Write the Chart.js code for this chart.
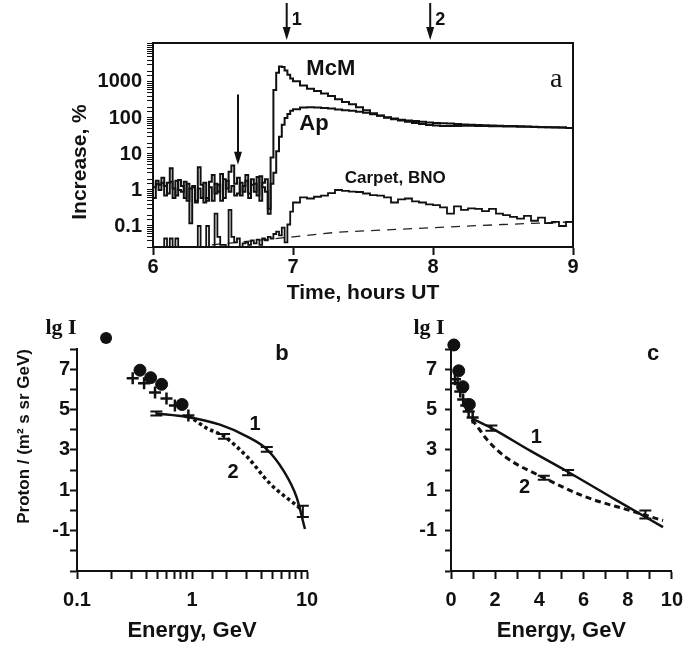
<!DOCTYPE html>
<html>
<head>
<meta charset="utf-8">
<script src="https://cdn.jsdelivr.net/npm/chart.js@4.4.0/dist/chart.umd.min.js"></script>
<style>
    html, body { margin: 0; padding: 0; background: #fff; }
    #wrap { position: relative; width: 692px; height: 648px; overflow: hidden; }
    canvas { position: absolute; }
</style>
</head>
<body>
<div id="wrap">
    <canvas id="chart-a" width="692" height="310" style="left:0;top:0"></canvas>
    <canvas id="chart-b" width="340" height="338" style="left:0;top:310px"></canvas>
    <canvas id="chart-c" width="352" height="338" style="left:340px;top:310px"></canvas>
</div>
<script>
// ---- panel a: increase, % vs time (hours UT)
const hoursA = [
    6.00, 6.02, 6.04, 6.06, 6.08, 6.10, 6.12, 6.14, 6.16, 6.18,
    6.20, 6.22, 6.24, 6.26, 6.28, 6.30, 6.32, 6.34, 6.36, 6.38,
    6.40, 6.42, 6.44, 6.46, 6.48, 6.50, 6.52, 6.54, 6.56, 6.58,
    6.60, 6.62, 6.64, 6.66, 6.68, 6.70, 6.72, 6.74, 6.76, 6.78,
    6.80, 6.82, 6.84, 6.86, 6.88, 6.90, 6.92, 6.94, 6.96, 6.98,
    7.00, 7.05, 7.10, 7.15, 7.20, 7.25, 7.30, 7.35, 7.40, 7.45,
    7.50, 7.55, 7.60, 7.65, 7.70, 7.75, 7.80, 7.85, 7.90, 7.95,
    8.00, 8.05, 8.10, 8.15, 8.20, 8.25, 8.30, 8.35, 8.40, 8.45,
    8.50, 8.55, 8.60, 8.65, 8.70, 8.75, 8.80, 8.85, 8.90, 8.95,
    9.00
];
const mcmIncrease = [
    1.2, 1.8, 1.4, 2.2, 0.7, 1.6, 4.0, 1.1, 0.7, 1.9,
    1.3, 0.6, 1.5, 0.12, 1.2, 0.5, 4.3, 1.4, 0.45, 0.6,
    1.7, 2.6, 0.8, 1.4, 0.5, 2.0, 1.1, 3.2, 4.8, 1.5,
    2.2, 0.7, 1.3, 1.8, 0.8, 2.0, 1.5, 0.7, 2.4, 1.2,
    0.9, 0.22, 8, 600, 1800, 2700, 2600, 2100, 1600, 1250,
    1050, 800, 650, 560, 480, 410, 330, 280, 240, 200,
    165, 135, 118, 105, 97, 90, 85, 82, 78, 75,
    73, 71, 70, 68, 66, 65, 64, 63, 62, 61,
    60, 60, 59, 58, 57, 56, 55, 55, 54, 53,
    52
];
const apIncrease = [
    0.6, 1.5, 1.0, 1.6, 1.3, 0.8, 1.7, 0.6, 1.8, 1.0,
    0.9, 1.7, 0.5, 1.1, 1.3, 0.45, 1.1, 0.6, 1.6, 0.5,
    1.2, 0.5, 1.5, 0.9, 2.8, 0.6, 1.8, 0.9, 1.3, 0.7,
    0.8, 1.6, 0.9, 2.6, 0.6, 1.4, 0.9, 2.3, 0.5, 1.6,
    2.0, 0.3, 1.5, 3, 12, 30, 65, 100, 130, 160,
    175, 195, 200, 195, 190, 182, 172, 165, 158, 150,
    140, 128, 115, 102, 92, 85, 78, 72, 68, 64,
    62, 60, 60, 60, 61, 61, 60, 60, 59, 59,
    58, 58, 57, 57, 56, 55, 55, 54, 54, 53,
    52
];
const carpetIncrease = [
    0.01, 0.01, 0.01, 0.01, 0.045, 0.01, 0.045, 0.01, 0.045, 0.01,
    0.01, 0.01, 0.01, 0.01, 0.01, 0.01, 0.1, 0.01, 0.01, 0.1,
    0.01, 0.01, 0.22, 0.05, 0.03, 0.03, 0.01, 0.28, 0.05, 0.035,
    0.045, 0.01, 0.033, 0.035, 0.03, 0.04, 0.033, 0.042, 0.03, 0.045,
    0.04, 0.05, 0.045, 0.06, 0.07, 0.055, 0.09, 0.035, 0.11, 0.25,
    0.45, 0.62, 0.58, 0.65, 0.7, 0.82, 1.0, 0.95, 0.9, 0.88,
    0.8, 0.72, 0.7, 0.62, 0.45, 0.55, 0.58, 0.48, 0.45, 0.4,
    0.38, 0.33, 0.22, 0.35, 0.28, 0.31, 0.3, 0.26, 0.3, 0.22,
    0.2, 0.18, 0.16, 0.19, 0.14, 0.17, 0.12, 0.13, 0.1, 0.13,
    0.09
];
const carpetBgHours = [6.42, 6.75, 7.0, 7.33, 8.0, 8.5, 9.0];
const carpetBg = [0.03, 0.04, 0.05, 0.068, 0.09, 0.11, 0.13];
const arrowHours = [6.955, 7.98];
const arrowLabels = ['1', '2'];
const onsetHour = 6.607;
const yTicksA = [0.1, 1, 10, 100, 1000];

// ---- panel b: spectrum vs energy, log scale
const dotE_b = [0.179, 0.353, 0.437, 0.544, 0.82];
const dotI_b = [8.55, 6.95, 6.58, 6.25, 5.25];
const crossE_b = [0.305, 0.383, 0.477, 0.6, 0.71, 0.93];
const crossI_b = [6.55, 6.3, 5.85, 5.55, 5.2, 4.7];
const fit1E_b = [0.49, 0.9, 1.75, 2.99, 4.47, 6.2, 8.1, 9.6];
const fit1I_b = [4.8, 4.63, 4.25, 3.67, 3.03, 2.0, 0.67, -0.92];
const fit2E_b = [0.93, 1.34, 1.9, 3.0, 4.77, 8.1, 9.2];
const fit2I_b = [4.7, 4.08, 3.67, 2.67, 1.33, 0.25, 0.0];
const errE_b = [0.49, 1.9, 4.47, 9.2];
const errI_b = [4.8, 3.67, 3.03, -0.05];
const errD_b = [0.1, 0.12, 0.12, 0.28];

// ---- panel c: same kind of spectrum, linear energy
const dotE_c = [0.13, 0.35, 0.54, 0.83];
const dotI_c = [8.2, 6.92, 6.13, 5.25];
const crossE_c = [0.18, 0.3, 0.42, 0.55, 0.69, 0.8, 0.98];
const crossI_c = [6.5, 6.3, 5.9, 5.5, 5.2, 4.9, 4.6];
const fit1E_c = [0.95, 1.83, 3.6, 5.36, 7.5, 9.6];
const fit1I_c = [4.55, 4.08, 2.95, 1.87, 0.5, -0.83];
const fit2E_c = [0.95, 1.3, 1.6, 2.44, 4.2, 6.1, 8.1, 9.6];
const fit2I_c = [4.5, 4.0, 3.55, 2.67, 1.62, 0.67, 0.0, -0.5];
const errE_c = [1.83, 4.2, 5.3, 8.8];
const errI_c = [4.08, 1.62, 1.87, -0.2];
const errD_c = [0.13, 0.1, 0.13, 0.2];

const INK = '#111';
const SANS = 'Arial, "Liberation Sans", sans-serif';
const SERIF = '"Liberation Serif", "Times New Roman", serif';
const tickFont = { family: SANS, size: 20, weight: 'bold' };

function toPoints(xs, ys) {
    return xs.map((x, i) => ({ x: x, y: ys[i] }));
}

function logTickLabel(value) {
    const hit = yTicksA.find(m => Math.abs(value / m - 1) < 1e-6);
    return hit === undefined ? '' : String(hit);
}

function drawDownArrow(ctx, x, y0, y1) {
    ctx.beginPath();
    ctx.moveTo(x, y0);
    ctx.lineTo(x, y1 - 8);
    ctx.lineWidth = 2;
    ctx.stroke();
    ctx.beginPath();
    ctx.moveTo(x - 4, y1 - 13);
    ctx.lineTo(x + 4, y1 - 13);
    ctx.lineTo(x, y1);
    ctx.closePath();
    ctx.fill();
}

function drawText(ctx, text, x, y, font, align) {
    ctx.font = font;
    ctx.textAlign = align || 'center';
    ctx.textBaseline = 'middle';
    ctx.fillText(text, x, y);
}

const panelAExtras = {
    id: 'panelAExtras',
    afterDraw(chart) {
        const { ctx, chartArea, scales } = chart;
        const xs = scales.x, ys = scales.y;
        ctx.save();
        ctx.strokeStyle = INK;
        ctx.fillStyle = INK;
        ctx.lineWidth = 2;
        ctx.strokeRect(chartArea.left, chartArea.top, chartArea.right - chartArea.left, chartArea.bottom - chartArea.top);

        arrowHours.forEach((h, i) => {
            const px = xs.getPixelForValue(h);
            drawDownArrow(ctx, px, 3, chartArea.top - 3);
            drawText(ctx, arrowLabels[i], px + 5, 20, `bold 18px ${SANS}`, 'left');
        });

        const ox = xs.getPixelForValue(onsetHour);
        drawDownArrow(ctx, ox, ys.getPixelForValue(450), ys.getPixelForValue(5));

        drawText(ctx, 'McM', xs.getPixelForValue(7.27), ys.getPixelForValue(2300), `bold 22px ${SANS}`);
        drawText(ctx, 'Ap', xs.getPixelForValue(7.15), ys.getPixelForValue(68), `bold 22px ${SANS}`);
        drawText(ctx, 'Carpet, BNO', xs.getPixelForValue(7.73), ys.getPixelForValue(2.15), `bold 17px ${SANS}`);
        drawText(ctx, 'a', xs.getPixelForValue(8.88), ys.getPixelForValue(1150), `28px ${SERIF}`);

        ctx.translate(80, 162);
        ctx.rotate(-Math.PI / 2);
        drawText(ctx, 'Increase, %', 0, 0, `bold 21px ${SANS}`);
        ctx.restore();
    }
};

function spectrumExtras(id, dotE, dotI, errE, errI, errD, labels, corner) {
    return {
        id: id,
        afterDraw(chart) {
            const { ctx, scales } = chart;
            const xs = scales.x, ys = scales.y;
            ctx.save();
            ctx.strokeStyle = INK;
            ctx.fillStyle = INK;
            ctx.lineWidth = 2;
            // dots above the axis top are skipped by the point element, draw them here
            dotE.forEach((e, i) => {
                if (dotI[i] <= ys.max) return;
                ctx.beginPath();
                ctx.arc(xs.getPixelForValue(e), ys.getPixelForValue(dotI[i]), 6, 0, 2 * Math.PI);
                ctx.fill();
            });
            errE.forEach((e, i) => {
                const px = xs.getPixelForValue(e);
                const hi = ys.getPixelForValue(errI[i] + errD[i]);
                const lo = ys.getPixelForValue(errI[i] - errD[i]);
                ctx.beginPath();
                ctx.moveTo(px, hi); ctx.lineTo(px, lo);
                ctx.moveTo(px - 6, hi); ctx.lineTo(px + 6, hi);
                ctx.moveTo(px - 6, lo); ctx.lineTo(px + 6, lo);
                ctx.stroke();
            });
            labels.forEach(l => {
                drawText(ctx, l.text, xs.getPixelForValue(l.x), ys.getPixelForValue(l.y), `bold 20px ${SANS}`);
            });
            drawText(ctx, 'lg I', corner.lgX, 18, `bold 22px ${SERIF}`);
            drawText(ctx, corner.letter, corner.letterX, 44, `bold 22px ${SANS}`);
            ctx.restore();
        }
    };
}

function pointSets(dotE, dotI, crossE, crossI, fit1E, fit1I, fit2E, fit2I, dash, dashWidth) {
    return [
        {
            data: toPoints(fit1E, fit1I), showLine: true, borderColor: INK, borderWidth: 2.5,
            pointRadius: 0, cubicInterpolationMode: 'monotone', tension: 0.4
        },
        {
            data: toPoints(fit2E, fit2I), showLine: true, borderColor: INK, borderWidth: dashWidth,
            borderDash: dash, pointRadius: 0, cubicInterpolationMode: 'monotone', tension: 0.4
        },
        {
            data: toPoints(crossE, crossI), pointStyle: 'cross', pointRadius: 6,
            borderColor: INK, borderWidth: 2.5
        },
        {
            data: toPoints(dotE, dotI), pointStyle: 'circle', pointRadius: 6,
            backgroundColor: INK, borderColor: INK, clip: false
        }
    ];
}

function energyYAxis(width, tickLength, padding, title) {
    return {
        type: 'linear', min: -3, max: 8,
        afterFit: s => { s.width = width; },
        border: { color: INK, width: 2 },
        grid: { drawOnChartArea: false, tickLength: tickLength, tickColor: INK, tickWidth: 2 },
        ticks: {
            stepSize: 1, autoSkip: false, padding: padding, color: INK, font: tickFont,
            callback: v => (Math.abs(v % 2) === 1 && v > -3) ? String(v) : ''
        },
        title: title
    };
}

function buildPanelA() {
    new Chart(document.getElementById('chart-a'), {
        type: 'line',
        data: {
            datasets: [
                { data: toPoints(hoursA, mcmIncrease), stepped: true, borderColor: INK, borderWidth: 2, pointRadius: 0 },
                { data: toPoints(hoursA, apIncrease), stepped: true, borderColor: INK, borderWidth: 2, pointRadius: 0 },
                { data: toPoints(hoursA, carpetIncrease), stepped: true, borderColor: INK, borderWidth: 1.8, pointRadius: 0 },
                { data: toPoints(carpetBgHours, carpetBg), borderColor: '#222', borderWidth: 1.3, borderDash: [9, 7], pointRadius: 0 }
            ]
        },
        options: {
            responsive: false,
            animation: false,
            layout: { padding: { left: 60, top: 43, right: 119, bottom: 0 } },
            plugins: { legend: { display: false }, tooltip: { enabled: false } },
            scales: {
                x: {
                    type: 'linear', min: 6, max: 9,
                    afterFit: s => { s.height = 63; },
                    border: { color: INK, width: 2 },
                    grid: { drawOnChartArea: false, tickLength: 8, tickColor: INK, tickWidth: 2 },
                    ticks: { stepSize: 1, padding: 0, color: INK, font: tickFont },
                    title: { display: true, text: 'Time, hours UT', color: INK, font: { family: SANS, size: 21, weight: 'bold' } }
                },
                y: {
                    type: 'logarithmic', min: 0.0261, max: 12100,
                    afterFit: s => { s.width = 93; },
                    border: { color: INK, width: 2 },
                    grid: { drawOnChartArea: false, tickLength: 6, tickColor: INK, tickWidth: 1 },
                    ticks: { autoSkip: false, padding: 5, color: INK, font: tickFont, callback: logTickLabel }
                }
            }
        },
        plugins: [panelAExtras]
    });
}

function buildPanelB() {
    new Chart(document.getElementById('chart-b'), {
        type: 'scatter',
        data: { datasets: pointSets(dotE_b, dotI_b, crossE_b, crossI_b, fit1E_b, fit1I_b, fit2E_b, fit2I_b, [3.5, 3], 3.5) },
        options: {
            responsive: false,
            animation: false,
            layout: { padding: { left: 10, top: 39, right: 33, bottom: 0 } },
            plugins: { legend: { display: false }, tooltip: { enabled: false } },
            scales: {
                x: {
                    type: 'logarithmic', min: 0.1, max: 10,
                    afterFit: s => { s.height = 77; },
                    border: { color: INK, width: 2 },
                    grid: { drawOnChartArea: false, tickLength: 8, tickColor: INK, tickWidth: 2 },
                    ticks: {
                        autoSkip: false, padding: 9, color: INK, font: tickFont, maxRotation: 0,
                        callback: v => [0.1, 1, 10].find(m => Math.abs(v / m - 1) < 1e-6) !== undefined ? String(v) : ''
                    },
                    title: { display: true, text: 'Energy, GeV', color: INK, font: { family: SANS, size: 22, weight: 'bold' } }
                },
                y: energyYAxis(67, 7, 0, {
                    display: true, text: 'Proton / (m² s sr GeV)', align: 'end', color: INK,
                    padding: { top: 4, bottom: 0 }, font: { family: SANS, size: 17, weight: 'bold' }
                })
            }
        },
        plugins: [spectrumExtras('extrasB', dotE_b, dotI_b, errE_b, errI_b, errD_b,
            [{ text: '1', x: 3.53, y: 4.25 }, { text: '2', x: 2.27, y: 1.9 }],
            { lgX: 61, letter: 'b', letterX: 282 })]
    });
}

function buildPanelC() {
    new Chart(document.getElementById('chart-c'), {
        type: 'scatter',
        data: { datasets: pointSets(dotE_c, dotI_c, crossE_c, crossI_c, fit1E_c, fit1I_c, fit2E_c, fit2I_c, [6, 4], 3) },
        options: {
            responsive: false,
            animation: false,
            layout: { padding: { left: 0, top: 39, right: 13, bottom: 0 } },
            plugins: { legend: { display: false }, tooltip: { enabled: false } },
            scales: {
                x: {
                    type: 'linear', min: 0, max: 10,
                    afterFit: s => { s.height = 77; },
                    border: { color: INK, width: 2 },
                    grid: { drawOnChartArea: false, tickLength: 8, tickColor: INK, tickWidth: 2 },
                    ticks: {
                        stepSize: 1, autoSkip: false, padding: 9, color: INK, font: tickFont, maxRotation: 0,
                        callback: v => v % 2 === 0 ? String(v) : ''
                    },
                    title: { display: true, text: 'Energy, GeV', color: INK, font: { family: SANS, size: 22, weight: 'bold' } }
                },
                y: energyYAxis(111, 6, 8, { display: false })
            }
        },
        plugins: [spectrumExtras('extrasC', dotE_c, dotI_c, errE_c, errI_c, errD_c,
            [{ text: '1', x: 3.86, y: 3.6 }, { text: '2', x: 3.33, y: 1.15 }],
            { lgX: 89, letter: 'c', letterX: 313 })]
    });
}

buildPanelA();
buildPanelB();
buildPanelC();
</script>
</body>
</html>
